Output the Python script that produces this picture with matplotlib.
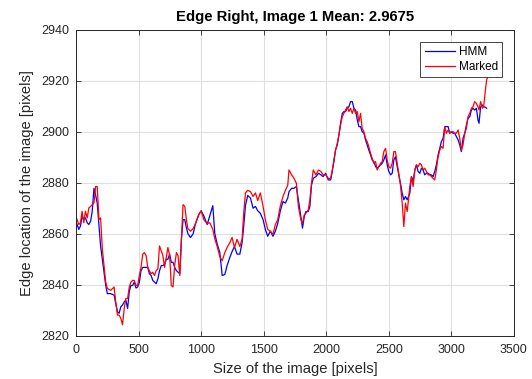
import matplotlib.pyplot as plt

plt.rcParams['font.family'] = ['Liberation Sans', 'DejaVu Sans']

# column position along the image [pixels]
pos = [3, 22, 35, 48, 62, 75, 89, 102, 116, 129,
       143, 156, 169, 183, 196, 210, 223, 237, 250, 277,
       304, 317, 331, 344, 358, 371, 385, 398, 412, 425,
       438, 452, 465, 479, 492, 506, 519, 533, 546, 560,
       573, 586, 600, 613, 627, 640, 654, 667, 681, 694,
       707, 721, 734, 748, 761, 775, 788, 802, 815, 829,
       842, 855, 869, 882,
       894, 915, 936, 955, 981, 1000, 1021, 1048, 1069, 1093,
       1109, 1128, 1149, 1168, 1189, 1207, 1229, 1247, 1266, 1287,
       1309, 1327, 1340, 1354, 1372, 1394, 1415, 1434, 1452, 1473,
       1495, 1513, 1532, 1553, 1574, 1593, 1612, 1633, 1654, 1673,
       1692,
       1702, 1723, 1742, 1761, 1777, 1797, 1810, 1824, 1837, 1856,
       1869, 1882, 1896, 1917, 1938, 1957, 1975, 1995, 2016, 2035,
       2048, 2061, 2074, 2088, 2101, 2114, 2128, 2141, 2154, 2168,
       2181, 2194, 2208, 2221, 2234, 2248, 2261, 2274, 2287, 2301,
       2314, 2327, 2340, 2354, 2367, 2380, 2394, 2407, 2420, 2434,
       2447, 2460, 2474, 2487, 2500, 2514, 2527, 2540, 2553, 2567,
       2580, 2593, 2607, 2620, 2633, 2647,
       2668, 2681, 2694, 2708, 2721, 2734, 2748, 2761, 2774, 2787,
       2801, 2814, 2827, 2840, 2854, 2867, 2880, 2894, 2907, 2920,
       2934, 2947, 2960, 2974, 2987, 3000, 3014, 3027, 3040, 3054,
       3067, 3080, 3093, 3107, 3120, 3133, 3147, 3160, 3173, 3186,
       3200, 3213, 3221, 3234, 3248, 3258, 3272, 3282]

# edge found by the HMM
edge_hmm = [2864.3, 2861.7, 2863.0, 2866.8, 2865.5, 2866.2, 2864.3, 2863.6, 2864.9, 2868.8,
            2877.8, 2875.2, 2872.0, 2863.0, 2855.2, 2850.0, 2844.9, 2839.7, 2836.5, 2836.5,
            2835.9, 2832.6, 2829.4, 2828.8, 2831.4, 2832.0, 2833.3, 2833.9, 2830.7, 2837.2,
            2839.7, 2839.7, 2841.0, 2838.7, 2839.1, 2841.0, 2845.5, 2846.8, 2846.8, 2846.8,
            2846.8, 2844.3, 2843.6, 2841.7, 2841.0, 2840.4, 2842.3, 2845.5, 2847.5, 2847.5,
            2848.1, 2850.0, 2850.0, 2852.0, 2848.8, 2848.8, 2846.8, 2845.5, 2844.9, 2844.3,
            2857.8, 2865.5, 2865.5, 2862.3,
            2860.0, 2858.5, 2860.0, 2864.0, 2867.5, 2869.0, 2867.0, 2863.6, 2867.0, 2871.0,
            2860.0, 2856.0, 2852.6, 2843.6, 2844.0, 2847.5, 2850.7, 2853.0, 2855.0, 2852.0,
            2852.0, 2856.5, 2863.0, 2871.0, 2875.0, 2874.0, 2870.0, 2870.7, 2869.0, 2868.0,
            2865.5, 2861.7, 2859.0, 2861.0, 2859.0, 2861.0, 2864.0, 2869.0, 2872.6, 2872.0,
            2874.0,
            2876.5, 2877.8, 2877.8, 2878.5, 2873.3, 2866.7, 2862.2, 2866.7, 2868.7, 2868.7,
            2870.7, 2879.1, 2881.7, 2882.4, 2883.7, 2883.1, 2882.4, 2883.7, 2881.1, 2881.1,
            2884.4, 2888.3, 2892.8, 2894.8, 2898.7, 2903.3, 2907.2, 2907.9, 2907.9, 2909.2,
            2909.8, 2911.8, 2911.8, 2909.2, 2908.5, 2904.6, 2902.0, 2902.0, 2900.0, 2899.4,
            2896.8, 2894.8, 2892.8, 2890.9, 2888.9, 2888.3, 2886.3, 2885.7, 2886.3, 2887.0,
            2887.6, 2888.9, 2890.9, 2887.0, 2884.4, 2883.1, 2883.7, 2888.9, 2890.2, 2886.3,
            2883.1, 2879.8, 2875.9, 2873.3, 2874.6, 2873.3,
            2875.9, 2882.4, 2880.4, 2885.0, 2887.0, 2884.4, 2883.7, 2885.7, 2885.0, 2883.1,
            2883.7, 2883.7, 2883.1, 2883.1, 2882.4, 2884.4, 2887.0, 2890.9, 2893.5, 2896.1,
            2897.4, 2902.0, 2902.0, 2902.0, 2899.4, 2900.0, 2899.4, 2899.4, 2898.1, 2896.8,
            2894.8, 2892.2, 2897.4, 2899.4, 2902.6, 2905.2, 2905.9, 2908.5, 2909.2, 2908.5,
            2909.2, 2904.6, 2903.3, 2909.8, 2910.5, 2909.8, 2909.6, 2909.2]

# hand marked edge
edge_marked = [2866.2, 2863.6, 2864.3, 2868.8, 2864.3, 2868.8, 2866.2, 2870.1, 2870.7, 2871.4,
               2872.0, 2878.5, 2878.5, 2865.5, 2866.2, 2853.9, 2847.5, 2841.0, 2838.5, 2837.8,
               2839.1, 2833.3, 2828.1, 2828.1, 2826.8, 2824.3, 2830.7, 2834.6, 2834.6, 2839.1,
               2841.0, 2841.7, 2841.7, 2839.7, 2839.7, 2843.6, 2846.8, 2852.0, 2852.6, 2851.4,
               2846.8, 2845.5, 2844.3, 2844.9, 2843.6, 2845.5, 2846.2, 2855.2, 2853.3, 2851.4,
               2846.8, 2850.7, 2854.6, 2851.4, 2839.7, 2839.1, 2847.5, 2852.6, 2851.4, 2843.6,
               2857.8, 2871.4, 2870.7, 2865.5,
               2862.0, 2861.0, 2862.0, 2864.0, 2867.5, 2869.0, 2865.5, 2864.0, 2864.3, 2861.7,
               2858.0, 2855.0, 2851.0, 2849.4, 2852.6, 2854.6, 2856.5, 2858.5, 2854.6, 2857.8,
               2855.0, 2857.8, 2868.0, 2876.0, 2877.0, 2876.5, 2874.6, 2876.0, 2873.0, 2876.0,
               2870.7, 2865.5, 2861.7, 2861.0, 2859.7, 2863.6, 2865.5, 2871.0, 2874.6, 2877.0,
               2879.0,
               2885.0, 2883.1, 2881.7, 2879.8, 2870.7, 2865.4, 2864.1, 2867.4, 2868.0, 2869.3,
               2873.3, 2879.8, 2885.0, 2883.1, 2885.0, 2884.4, 2883.1, 2883.1, 2881.7, 2881.7,
               2885.0, 2888.9, 2892.8, 2895.5, 2898.7, 2902.6, 2905.9, 2907.2, 2908.5, 2909.8,
               2907.9, 2909.2, 2907.2, 2909.2, 2907.2, 2907.9, 2903.9, 2907.2, 2901.3, 2900.0,
               2897.4, 2896.1, 2894.2, 2891.5, 2889.6, 2887.6, 2888.3, 2885.0, 2886.3, 2887.6,
               2888.3, 2892.2, 2893.5, 2888.9, 2886.3, 2885.7, 2887.6, 2892.2, 2892.2, 2887.6,
               2883.1, 2879.1, 2872.0, 2862.8, 2872.0, 2868.7,
               2878.5, 2882.4, 2878.5, 2885.0, 2887.0, 2886.3, 2887.6, 2887.0, 2885.0, 2885.7,
               2884.4, 2883.1, 2883.1, 2882.4, 2881.7, 2881.1, 2885.0, 2890.2, 2892.8, 2894.2,
               2893.5, 2902.0, 2899.4, 2900.7, 2899.4, 2900.0, 2900.0, 2899.4, 2899.4, 2900.7,
               2897.4, 2892.8, 2894.8, 2899.4, 2901.3, 2905.9, 2907.2, 2909.2, 2909.8, 2911.8,
               2911.1, 2909.8, 2908.5, 2911.8, 2909.2, 2909.8, 2916.3, 2920.3]
# the marked edge runs a little past the last HMM column
marked_tail_pos = [3295]
marked_tail = [2922.0]

fig = plt.figure(figsize=(5.32, 3.79), dpi=100)
ax = fig.add_axes([0.143, 0.1142, 0.823, 0.8074])

ax.plot(pos, edge_hmm, color='#0000ff', lw=0.9, label='HMM')
ax.plot(pos + marked_tail_pos, edge_marked + marked_tail, color='#ff0000', lw=0.9, label='Marked')

ax.set_xlim(0, 3500)
ax.set_ylim(2820, 2940)
ax.set_xticks(range(0, 3501, 500))
ax.set_yticks(range(2820, 2941, 20))
ax.grid(True, color='#dfdfdf', lw=0.8)
ax.set_axisbelow(True)
ax.tick_params(direction='in', top=True, right=True, length=3.5, width=0.6,
               colors='#262626', labelsize=9)
ax.tick_params(axis='x', pad=6)
ax.tick_params(axis='y', pad=5)
for s in ax.spines.values():
    s.set_color('#262626')
    s.set_linewidth(0.7)

ax.set_title('Edge Right, Image 1 Mean: 2.9675', fontsize=10.7, fontweight='bold', pad=6)
ax.set_xlabel('Size of the image [pixels]', fontsize=10.6, color='#262626', labelpad=4)
ax.set_ylabel('Edge location of the image [pixels]', fontsize=10.6, color='#262626', labelpad=5)

leg = ax.legend(loc='upper right', fontsize=8.5, fancybox=False, edgecolor='#262626',
                framealpha=1, handlelength=2.6, borderaxespad=1.0,
                borderpad=0.35, labelspacing=0.3, handletextpad=0.3)
leg.get_frame().set_linewidth(0.6)

fig.savefig('out.png', dpi=100)
